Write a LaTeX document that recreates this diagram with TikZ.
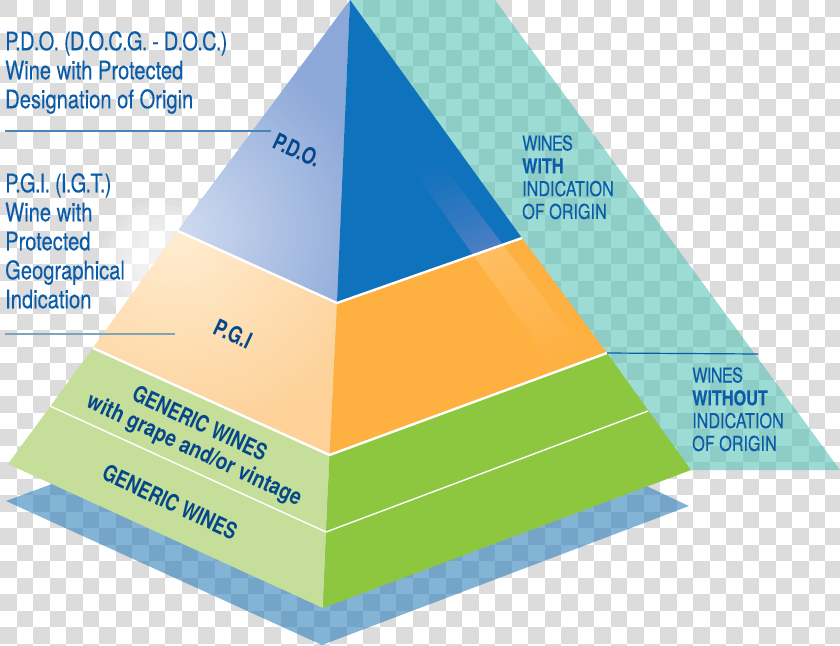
\documentclass[tikz,border=0pt]{standalone}
\usepackage{fontspec}
\setmainfont{TeX Gyre Heros}
\newfontfamily\sidefont{TeX Gyre Heros}[FakeStretch=0.79,FakeBold=0.12]
\newfontfamily\sidecaps{TeX Gyre Heros}[FakeStretch=0.79,FakeBold=0.12,LetterSpace=-3]
\newfontfamily\rightfont{TeX Gyre Heros}[FakeStretch=0.79,FakeBold=0.1]
\newfontfamily\rightcaps{TeX Gyre Heros}[FakeStretch=0.79,FakeBold=0.1,LetterSpace=-3]
\newfontfamily\tierfont{TeX Gyre Heros}[FakeStretch=0.78]
\newfontfamily\tiertight{TeX Gyre Heros}[FakeStretch=0.78,LetterSpace=-2.5]
\newfontfamily\grapefont{TeX Gyre Heros}[FakeStretch=0.84]
\definecolor{chk}{HTML}{DCDCDC}
\definecolor{txtblue}{HTML}{0A5CA8}
\definecolor{txtdark}{HTML}{04488A}
\definecolor{facedark}{HTML}{0F72BC}
\definecolor{faceorange}{HTML}{FEB040}
\definecolor{facegreen}{HTML}{8DC63F}
\definecolor{lightgreen}{HTML}{C5DF9B}
\definecolor{bandteal}{HTML}{4EBFB4}
\definecolor{floorblue}{HTML}{2A7DB8}
\definecolor{lightblueA}{HTML}{CFDAF0}
\definecolor{lightblueB}{HTML}{8CA8D8}
\definecolor{lightorangeA}{HTML}{FFEDD2}
\definecolor{lightorangeB}{HTML}{FDD198}
\definecolor{glint}{HTML}{A08FD0}
\definecolor{leadA}{HTML}{4A82BC}
\definecolor{leadB}{HTML}{7FA3B8}
\tikzset{
  sidetext/.style={anchor=north west,inner sep=0pt,align=left,text=txtblue,font=\sidefont\fontsize{25.5}{29}\selectfont},
  righttext/.style={anchor=north west,inner sep=0pt,align=left,text=txtblue,font=\rightfont\fontsize{20.5}{22.8}\selectfont},
  tiertext/.style={inner sep=0pt,text=txtdark,font=\tierfont\bfseries\fontsize{23}{24}\selectfont,rotate=-25},
  grapetext/.style={inner sep=0pt,text=txtdark,font=\grapefont\bfseries\fontsize{23}{24}\selectfont,rotate=-25},
  tierline/.style={white,line width=2.4pt,line join=round},
  thinline/.style={white,line width=1.4pt,line join=round},
  leader/.style={line width=1.2pt},
}
\begin{document}
\begin{tikzpicture}[x=1pt,y=-1pt]
\useasboundingbox (0,0) rectangle (840,645);
\fill[white] (0,0) rectangle (840,645);
% checker
\foreach \i in {0,...,50}{\foreach \j in {0,...,39}{
  \pgfmathparse{int(mod(\i+\j,2))}
  \ifnum\pgfmathresult=0
    \fill[chk] ({\i*16.5},{\j*16.5}) rectangle ++(16.5,16.5);
  \fi
}}
% glow
\foreach \r in {12,18,...,66}{\fill[white,opacity=0.13] (165,265) circle (\r pt);}
% translucent shapes
\fill[bandteal,opacity=0.55] (350,0) -- (495,0) -- (840,470) -- (330,470) -- cycle;
\fill[floorblue,opacity=0.58] (6,501) -- (60,481) -- (640,483) -- (689,506) -- (322,645) -- cycle;
% pyramid points
\coordinate (apex) at (350,0);
\coordinate (a1) at (178,231); \coordinate (b1) at (337,303); \coordinate (c1) at (522,238);
\coordinate (a2) at (93,348);  \coordinate (b2) at (329.5,455); \coordinate (c2) at (607,353);
\coordinate (a3) at (50,406);  \coordinate (b3) at (326,532); \coordinate (c3) at (648,411);
\coordinate (a4) at (8,464);   \coordinate (b4) at (323,608); \coordinate (c4) at (691,470);
% faces
\begin{scope}
  \clip (apex) -- (a1) -- (b1) -- cycle;
  \fill[lightblueB] (100,0) rectangle (400,320);
  \shade[inner color=lightblueA,outer color=lightblueB] (a1) circle (200pt);
\end{scope}
\fill[facedark] (apex) -- (b1) -- (c1) -- cycle;
\begin{scope}
  \clip (a1) -- (a2) -- (b2) -- (b1) -- cycle;
  \fill[lightorangeB] (80,220) rectangle (350,460);
  \shade[inner color=lightorangeA,outer color=lightorangeB] (a1) circle (210pt);
\end{scope}
\fill[faceorange] (b1) -- (b2) -- (c2) -- (c1) -- cycle;
\fill[lightgreen] (a2) -- (a4) -- (b4) -- (b2) -- cycle;
\fill[facegreen] (b2) -- (b4) -- (c4) -- (c2) -- cycle;
% highlight band
\foreach \k in {0,...,23}{
  \pgfmathsetmacro\ta{\k/24}\pgfmathsetmacro\tb{(\k+1)/24}
  \pgfmathsetmacro\op{0.42*\tb^1.5}
  \fill[glint,opacity=\op]
    ({405+68*\ta},{158+97*\ta}) -- ({430+73*\ta},{148+96.7*\ta}) --
    ({430+73*\tb},{148+96.7*\tb}) -- ({405+68*\tb},{158+97*\tb}) -- cycle;
  \pgfmathsetmacro\opb{0.17*(1-\ta)}
  \fill[white,opacity=\opb]
    ({473+84*\ta},{255+116*\ta}) -- ({503+87*\ta},{244.7+114.3*\ta}) --
    ({503+87*\tb},{244.7+114.3*\tb}) -- ({473+84*\tb},{255+116*\tb}) -- cycle;
}
% separators
\draw[tierline] (a1) -- (b1) -- (c1);
\draw[tierline] (a2) -- (b2) -- (c2);
\draw[thinline] (a3) -- (b3) -- (c3);
% leaders
\coordinate (l1a) at (5,131); \coordinate (l1b) at (271,131);
\coordinate (l2a) at (5,334); \coordinate (l2b) at (175,334);
\coordinate (l3b) at (758,354);
\draw[leader,color=leadA] (l1a) -- (l1b);
\draw[leader,color=leadB] (l2a) -- (l2b);
\draw[leader,color=txtblue] (c2) -- (l3b);
% texts
\node[sidetext] (pdo) at (5,31) {{\sidecaps P.D.O. (D.O.C.G. - D.O.C.)}\\Wine with Protected\\Designation of Origin};
\node[sidetext] (pgi) at (5,173) {{\sidecaps P.G.I. (I.G.T.)}\\Wine with\\Protected\\Geographical\\Indication};
\node[righttext] (with) at (522,135) {{\rightcaps WINES}\\\textbf{WITH}\\INDICATION\\OF ORIGIN};
\node[righttext] (without) at (692,367) {{\rightcaps WINES}\\\textbf{WITHOUT}\\INDICATION\\OF ORIGIN};
\node[tiertext,font=\tiertight\bfseries\fontsize{23}{24}\selectfont] (tpdo) at (297,150) {P.D.O.};
\node[tiertext] (tpgi) at (233,334) {P.G.I};
\node[tiertext] (tg1) at (200,423) {GENERIC WINES};
\node[grapetext] (tg2) at (194,451) {with grape and/or vintage};
\node[tiertext] (tg3) at (170,502) {GENERIC WINES};
\end{tikzpicture}
\end{document}
